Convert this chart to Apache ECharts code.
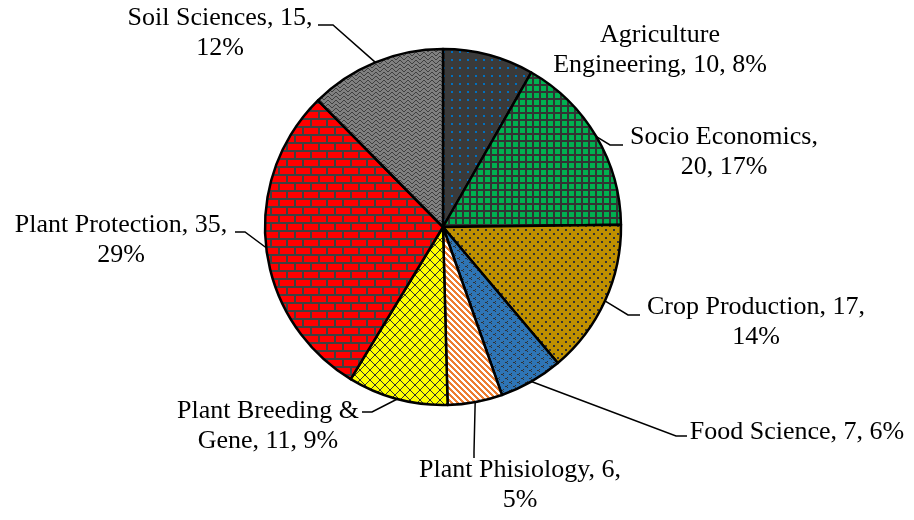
<!DOCTYPE html>
<html>
<head>
<meta charset="utf-8">
<script src="https://cdn.jsdelivr.net/npm/echarts@6/dist/echarts.min.js"></script>
<style>
  html, body { margin: 0; padding: 0; background: #fff; }
  #pie { width: 914px; height: 520px; }
</style>
</head>
<body>
<div id="pie"></div>
<script>
// data
var categories = ['Agriculture\nEngineering', 'Socio Economics', 'Crop Production', 'Food Science',
  'Plant Phisiology', 'Plant Breeding &\nGene', 'Plant Protection', 'Soil Sciences']
var values = [10, 20, 17, 7, 6, 11, 35, 15]
// where the label wraps: 0 none, 1 after name, 2 after value
var wrapAt = [0, 1, 2, 0, 2, 0, 2, 2]

// label placement: [x, y, lineEndX, lineEndY, lineBendX, lineBendY]
var labelPos = [
  [660, 50],
  [724, 152, 623, 145, 610, 145],
  [756, 322, 640, 315, 628, 315],
  [797, 432, 687, 436, 676, 436],
  [520, 485, 474, 458, 474, 452],
  [268, 426, 362, 412, 372, 412],
  [121, 240, 235, 232, 245, 232],
  [220, 33, 318, 25, 333, 25]
]

// fill patterns, like the excel ones
function tile(w, h, bg, fg, draw) {
  var c = document.createElement('canvas')
  c.width = w; c.height = h
  var g = c.getContext('2d')
  g.fillStyle = bg
  g.fillRect(0, 0, w, h)
  g.fillStyle = fg
  draw(g)
  return { image: c, repeat: 'repeat' }
}

var patterns = [
  tile(8, 8, '#3a3a3a', '#0070c0', function (g) { g.fillRect(3, 3, 2, 2) }),
  tile(7, 7, '#00b050', '#333333', function (g) { g.fillRect(0, 0, 7, 2); g.fillRect(0, 0, 2, 7) }),
  tile(8, 8, '#bf9000', '#333333', function (g) { g.fillRect(1, 1, 2, 2); g.fillRect(5, 5, 2, 2) }),
  tile(8, 8, '#2e75b6', '#333333', function (g) {
    g.fillRect(3, 1, 1, 1); g.fillRect(2, 2, 1, 1); g.fillRect(3, 3, 1, 1); g.fillRect(1, 2, 1, 1)
    g.fillRect(7, 5, 1, 1); g.fillRect(6, 6, 1, 1); g.fillRect(7, 7, 1, 1); g.fillRect(5, 6, 1, 1)
  }),
  tile(6, 6, '#ffffff', '#ed7d31', function (g) {
    for (var y = 0; y < 6; y++) for (var k = 0; k < 3; k++) g.fillRect((y + k) % 6, y, 1, 1)
  }),
  tile(10, 10, '#ffff00', '#333333', function (g) {
    for (var i = 0; i < 10; i++) { g.fillRect(i, i, 1, 1); g.fillRect(9 - i, i, 1, 1) }
  }),
  tile(16, 16, '#ff0000', '#404040', function (g) {
    g.fillRect(0, 6, 16, 2); g.fillRect(0, 14, 16, 2)
    g.fillRect(14, 0, 2, 6); g.fillRect(6, 8, 2, 6)
  }),
  tile(8, 4, '#808080', '#3f3f3f', function (g) {
    for (var y = 0; y < 4; y++) { g.fillRect(y, y, 1, 1); g.fillRect(7 - y, y, 1, 1) }
  })
]

var pieData = categories.map(function (name, i) {
  var item = { name: name, value: values[i], itemStyle: { color: patterns[i] } }
  if (labelPos[i].length < 4) item.labelLine = { show: false }
  return item
})

var option = {
  backgroundColor: '#fff',
  animation: false,
  series: [{
    type: 'pie',
    center: [443, 227],
    radius: 178,
    startAngle: 90,
    clockwise: true,
    avoidLabelOverlap: false,
    data: pieData,
    itemStyle: { borderColor: '#000', borderWidth: 2.5 },
    label: {
      show: true,
      position: 'outside',
      fontFamily: 'Liberation Serif',
      fontSize: 26,
      lineHeight: 30,
      color: '#000',
      align: 'center',
      formatter: function (p) {
        var i = p.dataIndex
        var pct = Math.round(p.percent) + '%'
        var s1 = wrapAt[i] === 1 ? '\n' : ' '
        var s2 = wrapAt[i] === 2 ? '\n' : ' '
        return p.name + ',' + s1 + p.value + ',' + s2 + pct
      }
    },
    labelLine: {
      show: true,
      length: 10,
      length2: 10,
      lineStyle: { color: '#000', width: 1.5 }
    },
    labelLayout: function (p) {
      var L = labelPos[p.dataIndex]
      var out = { x: L[0], y: L[1], align: 'center', verticalAlign: 'middle' }
      if (L.length > 2 && p.labelLinePoints) {
        out.labelLinePoints = [p.labelLinePoints[0], [L[4], L[5]], [L[2], L[3]]]
      }
      return out
    }
  }]
}

var myChart = echarts.init(document.getElementById('pie'))
myChart.setOption(option)
</script>
</body>
</html>
